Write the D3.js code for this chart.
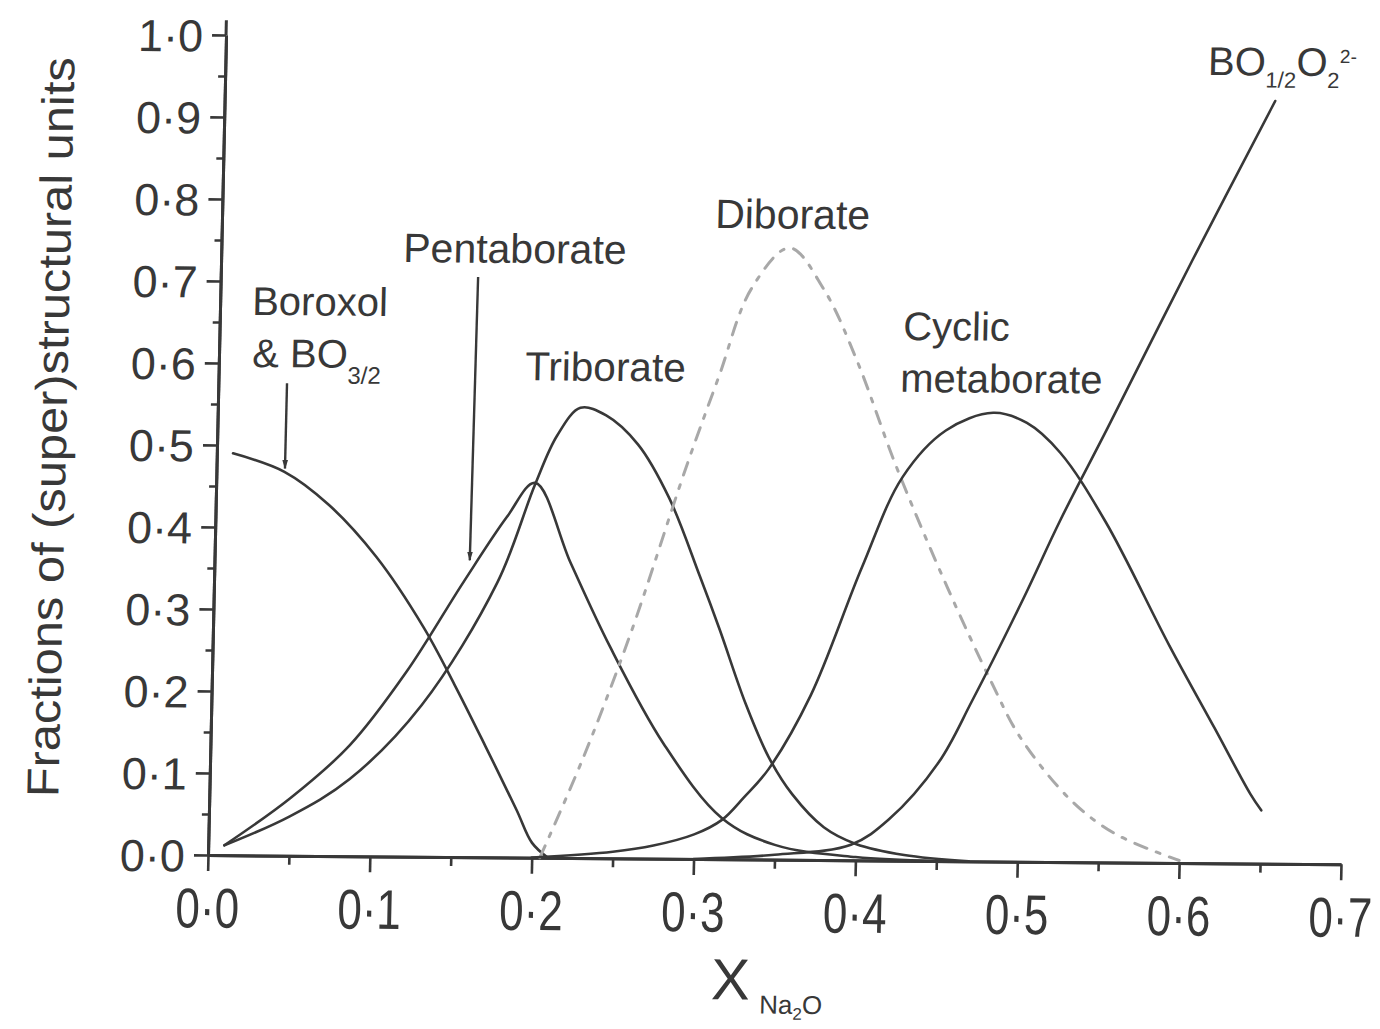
<!DOCTYPE html>
<html>
<head>
<meta charset="utf-8">
<script src="https://cdn.jsdelivr.net/npm/d3@7"></script>
<style>
  html, body { margin: 0; padding: 0; background: #fff; }
  svg { display: block; }
  text { font-family: "Liberation Sans", Arial, sans-serif; fill: #383838; }
</style>
</head>
<body>
<svg id="chart" width="1380" height="1029"></svg>
<script>
// Axis ticks
const xMajor = [0, 0.1, 0.2, 0.3, 0.4, 0.5, 0.6, 0.7];
const xMinor = [0.05, 0.15, 0.25, 0.35, 0.45, 0.55, 0.65];
const yMajor = [0, 0.1, 0.2, 0.3, 0.4, 0.5, 0.6, 0.7, 0.8, 0.9, 1.0];
const yMinor = [0.05, 0.15, 0.25, 0.35, 0.45, 0.55, 0.65, 0.75, 0.85, 0.95];

// Fractions of each (super)structural unit against X(Na2O)
const boroxolX = [0.01, 0.042, 0.07, 0.1, 0.13, 0.15, 0.17, 0.19, 0.2, 0.21];
const boroxolY = [0.49, 0.468, 0.428, 0.365, 0.28, 0.21, 0.135, 0.058, 0.018, 0.0];

const pentaX = [0.01, 0.05, 0.086, 0.12, 0.154, 0.18, 0.197, 0.22, 0.2455, 0.28, 0.317, 0.35, 0.4, 0.45];
const pentaY = [0.012, 0.07, 0.135, 0.225, 0.335, 0.415, 0.457, 0.36, 0.258, 0.14, 0.05, 0.018, 0.004, 0.0];

const triX = [0.01, 0.05, 0.0865, 0.13, 0.175, 0.197, 0.21, 0.224, 0.24, 0.26, 0.28, 0.3, 0.313, 0.33, 0.345, 0.36, 0.38, 0.4, 0.43, 0.47];
const triY = [0.012, 0.048, 0.094, 0.185, 0.335, 0.455, 0.515, 0.549, 0.54, 0.505, 0.44, 0.345, 0.28, 0.19, 0.125, 0.08, 0.04, 0.02, 0.007, 0.0];

const diX = [0.205, 0.23, 0.258, 0.29, 0.309, 0.328, 0.351, 0.373, 0.394, 0.42, 0.453, 0.482, 0.5, 0.532, 0.56, 0.6];
const diY = [0.0, 0.12, 0.274, 0.477, 0.588, 0.696, 0.746, 0.695, 0.61, 0.48, 0.334, 0.217, 0.152, 0.076, 0.035, 0.003];

const cyclicX = [0.2, 0.25, 0.275, 0.3, 0.317, 0.33, 0.345, 0.37, 0.4, 0.424, 0.45, 0.479, 0.5, 0.521, 0.55, 0.591, 0.62, 0.643, 0.65];
const cyclicY = [0.0, 0.008, 0.016, 0.03, 0.048, 0.075, 0.11, 0.2, 0.357, 0.468, 0.525, 0.547, 0.535, 0.499, 0.415, 0.265, 0.165, 0.085, 0.065];

const boX = [0.3, 0.35, 0.397, 0.42, 0.45, 0.47, 0.5, 0.522, 0.55, 0.6, 0.649];
const boY = [0.0, 0.006, 0.019, 0.05, 0.12, 0.196, 0.32, 0.417, 0.53, 0.735, 0.93];

const series = [
  { xs: boroxolX, ys: boroxolY, dashed: false },
  { xs: pentaX, ys: pentaY, dashed: false },
  { xs: triX, ys: triY, dashed: false },
  { xs: diX, ys: diY, dashed: true },
  { xs: cyclicX, ys: cyclicY, dashed: false },
  { xs: boX, ys: boY, dashed: false }
];

const svg = d3.select("#chart");
const ink = "#383838";

const x = d3.scaleLinear().domain([0, 0.7]).range([208, 1341]);
const y = d3.scaleLinear().domain([0, 1]).range([855, 35]);

// The printed frame leans slightly: y axis tilts right going up, x axis drops going right
const ox = x(0), oy = y(0);
const plot = svg.append("g")
  .attr("transform", `translate(${ox},${oy}) matrix(1,0.0082,-0.022,1,0,0) translate(${-ox},${-oy})`);

const fmt = d => d3.format(".1f")(d).replace(".", "\u00B7");

// X axis
const xAxisMinor = plot.append("g").attr("transform", `translate(0,${oy})`)
  .call(d3.axisBottom(x).tickValues(xMinor).tickSize(9).tickSizeOuter(0).tickFormat(""));
const xAxis = plot.append("g").attr("transform", `translate(0,${oy})`)
  .call(d3.axisBottom(x).tickValues(xMajor).tickSize(16).tickSizeOuter(0).tickFormat(fmt));
xAxis.selectAll("text")
  .attr("dy", null).attr("y", 57)
  .attr("transform", "scale(1,1.27)")
  .style("font-size", "44px").style("fill", ink);

// Y axis
const yAxisMinor = plot.append("g").attr("transform", `translate(${ox},0)`)
  .call(d3.axisLeft(y).tickValues(yMinor).tickSize(7).tickSizeOuter(0).tickFormat(""));
const yAxis = plot.append("g").attr("transform", `translate(${ox},0)`)
  .call(d3.axisLeft(y).tickValues(yMajor).tickSize(14).tickSizeOuter(0).tickPadding(9).tickFormat(fmt));
yAxis.selectAll("text").style("font-size", "45px").style("fill", ink).attr("dy", "0.36em");

[xAxis, xAxisMinor, yAxis, yAxisMinor].forEach(a => {
  a.selectAll("line").attr("stroke", ink).attr("stroke-width", 2.6);
  a.select(".domain").attr("stroke", ink).attr("stroke-width", 3);
});
// y axis line runs a little past the top tick
plot.append("line")
  .attr("x1", ox).attr("x2", ox)
  .attr("y1", y(1)).attr("y2", y(1.018))
  .attr("stroke", ink).attr("stroke-width", 3);

// Curves
const line = d3.line()
  .x(d => x(d[0])).y(d => y(d[1]))
  .curve(d3.curveCatmullRom.alpha(0.5));

series.forEach(s => {
  const pts = s.xs.map((v, i) => [v, s.ys[i]]);
  plot.append("path")
    .attr("d", line(pts))
    .attr("fill", "none")
    .attr("stroke", s.dashed ? "#a8a8a8" : ink)
    .attr("stroke-width", s.dashed ? 3 : 2.6)
    .attr("stroke-dasharray", s.dashed ? "13,10,4,10" : null)
    .attr("stroke-linecap", "round");
});

// Arrow markers for the pointer lines
svg.append("defs").append("marker")
  .attr("id", "tip").attr("viewBox", "0 0 10 10")
  .attr("refX", 9).attr("refY", 5)
  .attr("markerWidth", 4).attr("markerHeight", 6)
  .attr("markerUnits", "strokeWidth")
  .attr("orient", "auto")
  .append("path").attr("d", "M0,2 L10,5 L0,8 Z").attr("fill", ink);

const pointers = [
  { x1: 0.0424, y1: 0.576, x2: 0.0423, y2: 0.472 },
  { x1: 0.159, y1: 0.7075, x2: 0.1577, y2: 0.362 }
];
plot.selectAll(".pointer").data(pointers).join("line")
  .attr("class", "pointer")
  .attr("x1", d => x(d.x1)).attr("y1", d => y(d.y1))
  .attr("x2", d => x(d.x2)).attr("y2", d => y(d.y2))
  .attr("stroke", ink).attr("stroke-width", 2.4)
  .attr("marker-end", "url(#tip)");

// Curve labels
function label(px, py, size) {
  return plot.append("text")
    .attr("x", x(px)).attr("y", y(py))
    .style("font-size", size + "px").style("fill", ink);
}
label(0.0198, 0.659, 40).text("Boroxol");
const bo32 = label(0.0205, 0.5956, 40);
bo32.append("tspan").text("& BO");
bo32.append("tspan").attr("dy", 16).style("font-size", "24px").text("3/2");

label(0.1124, 0.725, 41).text("Pentaborate");
label(0.1893, 0.582, 40.5).text("Triborate");
label(0.3046, 0.7697, 41).text("Diborate");
label(0.4223, 0.635, 40).text("Cyclic");
label(0.4211, 0.5716, 40).text("metaborate");

const boLabel = label(0.607, 0.961, 40);
boLabel.append("tspan").text("BO");
boLabel.append("tspan").attr("dy", 12).style("font-size", "22px").text("1/2");
boLabel.append("tspan").attr("dy", -12).text("O");
boLabel.append("tspan").attr("dy", 12).style("font-size", "22px").text("2");
boLabel.append("tspan").attr("dy", -25).style("font-size", "19px").text("2-");

// Axis titles
plot.append("text")
  .attr("transform", `translate(57,${y(0.52)}) rotate(-90)`)
  .attr("text-anchor", "middle")
  .attr("textLength", 740).attr("lengthAdjust", "spacingAndGlyphs")
  .style("font-size", "45px").style("fill", ink)
  .text("Fractions of (super)structural units");

const xTitle = plot.append("text")
  .attr("x", x(0.3125)).attr("y", 995)
  .style("font-size", "58px").style("fill", ink);
xTitle.append("tspan").text("X");
xTitle.append("tspan").attr("dx", 10).attr("dy", 14).style("font-size", "26px").text("Na");
xTitle.append("tspan").attr("dy", 6).style("font-size", "17px").text("2");
xTitle.append("tspan").attr("dy", -6).style("font-size", "26px").text("O");
</script>
</body>
</html>
